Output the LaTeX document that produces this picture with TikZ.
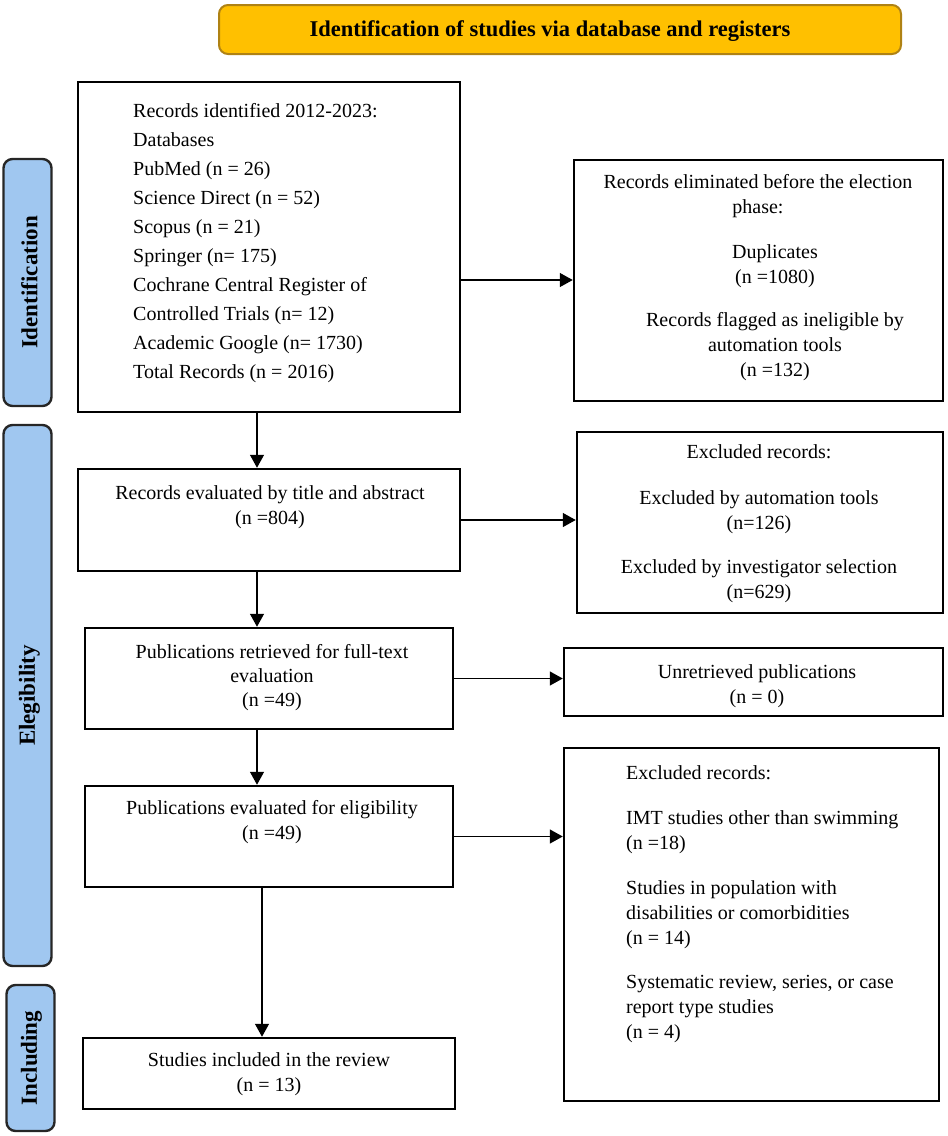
\documentclass[tikz,border=0pt]{standalone}
\usepackage{fontspec}
\setmainfont{Liberation Serif}
\usetikzlibrary{arrows.meta,calc}
\definecolor{sideblue}{RGB}{160,199,240}
\definecolor{titlegold}{RGB}{255,192,0}
\definecolor{goldborder}{RGB}{175,130,20}
\begin{document}
\begin{tikzpicture}[x=1pt,y=-1pt,
  box/.style={draw=black, line width=2.5pt, rectangle, inner sep=0pt},
  side/.style={draw=black!85, fill=sideblue, line width=2.4pt, rectangle, rounded corners=9pt, inner sep=0pt},
  txt/.style={inner sep=0pt, font=\fontsize{20}{25}\selectfont, align=center},
  arr/.style={line width=1.4pt, -{Triangle[length=13pt,width=14pt]}},
  sidetxt/.style={rotate=90, font=\fontsize{23}{26}\selectfont\bfseries, inner sep=0pt}
]
\useasboundingbox (0,0) rectangle (948,1136);
% title
\node[draw=goldborder, fill=titlegold, line width=2pt, rounded corners=9pt, minimum width=682pt, minimum height=49pt, inner sep=0pt] (title) at (560,29.5) {};
\node[inner sep=0pt, font=\fontsize{22.5}{25}\selectfont\bfseries] (titletxt) at (550,31) {Identification of studies via database and registers};
% side bars
\node[side, minimum width=48pt, minimum height=247pt] (s1) at (27.5,282.5) {};
\node[sidetxt] (s1t) at ([xshift=2pt]s1.center) {Identification};
\node[side, minimum width=48pt, minimum height=541pt] (s2) at (27.5,695.5) {};
\node[sidetxt] (s2t) at ([xshift=2pt]s2.center) {Elegibility};
\node[side, minimum width=48pt, minimum height=146pt] (s3) at (30.5,1058) {};
\node[sidetxt] (s3t) at ([xshift=1pt]s3.center) {Including};
% boxes
\node[box, minimum width=382pt, minimum height=330pt] (b1) at (269,247) {};
\node[box, minimum width=369pt, minimum height=241pt] (b2) at (758.5,280.5) {};
\node[box, minimum width=382pt, minimum height=102pt] (b3) at (269,520) {};
\node[box, minimum width=366pt, minimum height=181pt] (b4) at (760,522.5) {};
\node[box, minimum width=368pt, minimum height=101pt] (b5) at (269,678.5) {};
\node[box, minimum width=379pt, minimum height=68pt] (b6) at (753.5,682) {};
\node[box, minimum width=368pt, minimum height=101pt] (b7) at (269,836.5) {};
\node[box, minimum width=375pt, minimum height=353pt] (b8) at (751.5,924.5) {};
\node[box, minimum width=372pt, minimum height=71pt] (b9) at (269,1073.5) {};
% texts
\node[txt, anchor=north west, align=left, font=\fontsize{20}{29}\selectfont] (t1) at (133,103) {Records identified 2012-2023:\\ Databases\\ PubMed (n = 26)\\ Science Direct (n = 52)\\ Scopus (n = 21)\\ Springer (n= 175)\\ Cochrane Central Register of\\ Controlled Trials (n= 12)\\ Academic Google (n= 1730)\\ Total Records (n = 2016)};
\node[txt, anchor=north] (t2a) at (758,174) {Records eliminated before the election\\ phase:};
\node[txt, anchor=north] (t2b) at (775,244) {Duplicates\\ (n =1080)\\[18pt] Records flagged as ineligible by\\ automation tools\\ (n =132)};
\node[txt, anchor=north] (t3) at (270,485) {Records evaluated by title and abstract\\ (n =804)};
\node[txt, anchor=north] (t4) at (759,444) {Excluded records:\\[21pt] Excluded by automation tools\\ (n=126)\\[19pt] Excluded by investigator selection\\ (n=629)};
\node[txt, anchor=north, font=\fontsize{20}{24}\selectfont] (t5) at (272,644) {Publications retrieved for full-text\\ evaluation\\ (n =49)};
\node[txt, anchor=north] (t6) at (757,664) {Unretrieved publications\\ (n = 0)};
\node[txt, anchor=north] (t7) at (272,800) {Publications evaluated for eligibility\\ (n =49)};
\node[txt, anchor=north west, align=left] (t8) at (626,765) {Excluded records:\\[20pt] IMT studies other than swimming\\ (n =18)\\[20pt] Studies in population with\\ disabilities or comorbidities\\ (n = 14)\\[19pt] Systematic review, series, or case\\ report type studies\\ (n = 4)};
\node[txt, anchor=north] (t9) at (269,1052) {Studies included in the review\\ (n = 13)};
% connectors
\coordinate (ax) at (257,0);
\coordinate (ay) at (262,0);
\draw[arr] ([yshift=-33pt]b1.east) -- ([yshift=-33pt]b1.east -| b2.west);
\draw[arr] (b3.east) -- (b3.east -| b4.west);
\draw[arr] (b5.east) -- (b5.east -| b6.west);
\draw[arr] (b7.east) -- (b7.east -| b8.west);
\draw[arr] (b1.south -| ax) -- (b3.north -| ax);
\draw[arr] (b3.south -| ax) -- (b5.north -| ax);
\draw[arr] (b5.south -| ax) -- (b7.north -| ax);
\draw[arr] (b7.south -| ay) -- (b9.north -| ay);
\end{tikzpicture}
\end{document}
